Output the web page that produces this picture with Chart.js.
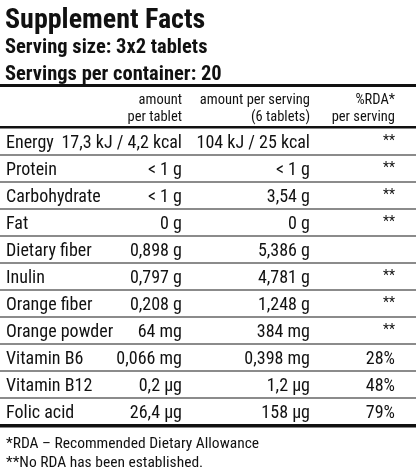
<!DOCTYPE html>
<html><head><meta charset="utf-8">
<script src="https://cdn.jsdelivr.net/npm/chart.js@4/dist/chart.umd.min.js"></script>
<style>html,body{margin:0;padding:0;background:#fff}#c{display:block}</style>
</head><body>
<div style="width:416px;height:474px"><canvas id="c" width="416" height="474"></canvas></div>
<script>
const title = "Supplement Facts";
const servingLines = ["Serving size: 3x2 tablets", "Servings per container: 20"];
const headers = [["amount", "per tablet"], ["amount per serving", "(6 tablets)"], ["%RDA*", "per serving"]];
const nutrients = ["Energy","Protein","Carbohydrate","Fat","Dietary fiber","Inulin","Orange fiber","Orange powder","Vitamin B6","Vitamin B12","Folic acid"];
const perTablet = ["17,3 kJ / 4,2 kcal","< 1 g","< 1 g","0 g","0,898 g","0,797 g","0,208 g","64 mg","0,066 mg","0,2 µg","26,4 µg"];
const perServing = ["104 kJ / 25 kcal","< 1 g","3,54 g","0 g","5,386 g","4,781 g","1,248 g","384 mg","0,398 mg","1,2 µg","158 µg"];
const rda = ["**","**","**","**","","**","**","**","28%","48%","79%"];
const footnotes = ["*RDA – Recommended Dietary Allowance", "**No RDA has been established."];

const F = '"Liberation Sans Narrow","Arial Narrow","Roboto Condensed",sans-serif';
const tablePlugin = {
  id: 'table',
  afterDraw(chart) {
    const ctx = chart.ctx;
    const y = chart.scales.y;
    ctx.save();
    ctx.fillStyle = '#111';
    ctx.textBaseline = 'alphabetic';
    ctx.textAlign = 'left';
    ctx.font = 'bold 28px ' + F;
    ctx.fillText(title, 5, 28);
    ctx.font = 'bold 20.5px ' + F;
    ctx.fillText(servingLines[0], 5, 53);
    ctx.fillText(servingLines[1], 5, 80);
    ctx.fillRect(0, 84, 416, 3);
    ctx.fillRect(0, 126, 416, 2.5);
    ctx.fillRect(0, 424, 416, 3.5);
    const rights = [182, 310, 395];
    ctx.font = '14.5px ' + F;
    ctx.textAlign = 'right';
    headers.forEach((h, i) => { ctx.fillText(h[0], rights[i], 104); ctx.fillText(h[1], rights[i], 121); });
    nutrients.forEach((n, i) => {
      const top = y.getPixelForValue(i - 0.5), bot = y.getPixelForValue(i + 0.5);
      if (i < nutrients.length - 1) { ctx.fillStyle = '#666'; ctx.fillRect(0, bot - 0.75, 416, 1.5); }
      ctx.fillStyle = '#111';
      const base = (top + bot) / 2 + 6.5;
      ctx.font = '18px ' + F;
      ctx.textAlign = 'left'; ctx.fillText(n, 6, base);
      ctx.textAlign = 'right';
      ctx.fillText(perTablet[i], rights[0], base);
      ctx.fillText(perServing[i], rights[1], base);
      ctx.font = (rda[i].includes('%') ? '18px ' : '14px ') + F;
      ctx.fillText(rda[i], rights[2], rda[i].includes('%') ? base : base - 3);
    });
    ctx.font = '15.5px ' + F;
    ctx.textAlign = 'left';
    ctx.fillText(footnotes[0], 6, 448);
    ctx.fillText(footnotes[1], 6, 467);
    ctx.restore();
  }
};
new Chart(document.getElementById('c'), {
  type: 'bar',
  data: { labels: nutrients, datasets: [{ data: nutrients.map(() => null) }] },
  options: {
    responsive: false, animation: false,
    layout: { padding: { top: 128, bottom: 474 - 425, left: 0, right: 0 } },
    plugins: { legend: { display: false }, tooltip: { enabled: false } },
    scales: {
      x: { display: false },
      y: { type: 'linear', min: -0.5, max: 10.5, reverse: true, display: false }
    }
  },
  plugins: [tablePlugin]
});
</script>
</body></html>
